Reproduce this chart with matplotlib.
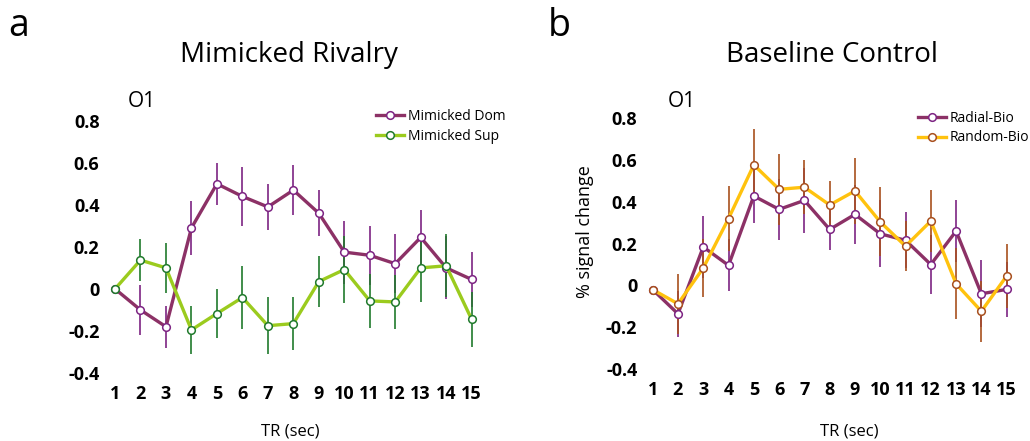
import matplotlib.pyplot as plt

plt.rcParams['font.family'] = ['Open Sans', 'DejaVu Sans']

tr = list(range(1, 16))

# panel a: Mimicked Rivalry
dom = [0.0, -0.10, -0.18, 0.29, 0.50, 0.44, 0.39, 0.47, 0.36, 0.175, 0.16, 0.12, 0.245, 0.10, 0.045]
dom_err = [0.0, 0.12, 0.10, 0.13, 0.10, 0.14, 0.11, 0.12, 0.11, 0.15, 0.14, 0.14, 0.13, 0.15, 0.13]
sup = [0.0, 0.137, 0.10, -0.195, -0.117, -0.041, -0.175, -0.165, 0.035, 0.092, -0.057, -0.062, 0.10, 0.11, -0.145]
sup_err = [0.0, 0.10, 0.12, 0.115, 0.115, 0.15, 0.135, 0.125, 0.12, 0.16, 0.13, 0.13, 0.16, 0.15, 0.13]

# panel b: Baseline Control
radial = [-0.02, -0.136, 0.184, 0.096, 0.428, 0.364, 0.407, 0.268, 0.34, 0.247, 0.216, 0.10, 0.26, -0.04, -0.019]
radial_err = [0.0, 0.11, 0.15, 0.125, 0.13, 0.145, 0.155, 0.10, 0.14, 0.16, 0.135, 0.14, 0.15, 0.16, 0.13]
random_ = [-0.02, -0.088, 0.083, 0.32, 0.577, 0.46, 0.47, 0.385, 0.452, 0.304, 0.188, 0.308, 0.008, -0.124, 0.045]
random_err = [0.0, 0.145, 0.14, 0.155, 0.17, 0.17, 0.13, 0.115, 0.16, 0.165, 0.12, 0.15, 0.17, 0.145, 0.155]

yticks = [0.8, 0.6, 0.4, 0.2, 0, -0.2, -0.4]
ylabels = ['0.8', '0.6', '0.4', '0.2', '0', '-0.2', '-0.4']

fig = plt.figure(figsize=(10.3, 4.41), dpi=100)


def draw(ax, y, err, line_c, err_c, label):
    ax.errorbar(tr, y, yerr=err, fmt='none', ecolor=err_c, elinewidth=1.2, capsize=0, zorder=1)
    ax.plot(tr, y, color=line_c, lw=2.4, marker='o', ms=5.5, mfc='white', mec=err_c, mew=1.1,
            label=label, zorder=3)


def setup(ax):
    ax.set_xlim(0.5, 15.5)
    ax.set_ylim(-0.4, 0.8)
    for s in ax.spines.values():
        s.set_visible(False)
    ax.set_xticks(tr)
    ax.set_xticklabels([str(t) for t in tr], fontweight='bold', fontsize=13)
    ax.set_yticks(yticks)
    ax.set_yticklabels(ylabels, fontweight='bold', fontsize=13)
    ax.tick_params(length=0)
    ax.tick_params(axis='x', pad=9)
    ax.tick_params(axis='y', pad=2)


ax1 = fig.add_axes([0.0993, 0.1542, 0.371, 0.572])
draw(ax1, dom, dom_err, '#8C3166', '#7D2483', 'Mimicked Dom')
draw(ax1, sup, sup_err, '#9BCB1E', '#207A2C', 'Mimicked Sup')
setup(ax1)
ax1.legend(loc='upper left', bbox_to_anchor=(0.36, 0.766), bbox_transform=fig.transFigure,
           frameon=False, fontsize=10, handlelength=2.0, handletextpad=0.3, labelspacing=0.35,
           borderaxespad=0)
fig.text(0.282, 0.022, 'TR (sec)', ha='center', va='center', fontsize=12)

ax2 = fig.add_axes([0.6214, 0.1633, 0.3682, 0.5685])
draw(ax2, radial, radial_err, '#8C3166', '#7D2483', 'Radial-Bio')
draw(ax2, random_, random_err, '#FFC20E', '#A8501E', 'Random-Bio')
setup(ax2)
ax2.legend(loc='upper left', bbox_to_anchor=(0.886, 0.762), bbox_transform=fig.transFigure,
           frameon=False, fontsize=10, handlelength=2.0, handletextpad=0.3, labelspacing=0.35,
           borderaxespad=0)
fig.text(0.825, 0.022, 'TR (sec)', ha='center', va='center', fontsize=12)
fig.text(0.568, 0.474, '% signal change', rotation=90, ha='center', va='center', fontsize=13)

fig.text(0.008, 0.985, 'a', fontsize=27, va='top', ha='left')
fig.text(0.532, 0.985, 'b', fontsize=27, va='top', ha='left')
fig.text(0.281, 0.875, 'Mimicked Rivalry', fontsize=20, ha='center', va='center')
fig.text(0.808, 0.875, 'Baseline Control', fontsize=20, ha='center', va='center')
fig.text(0.124, 0.77, 'O1', fontsize=15, ha='left', va='center')
fig.text(0.648, 0.77, 'O1', fontsize=15, ha='left', va='center')

fig.savefig('out.png', dpi=100)
